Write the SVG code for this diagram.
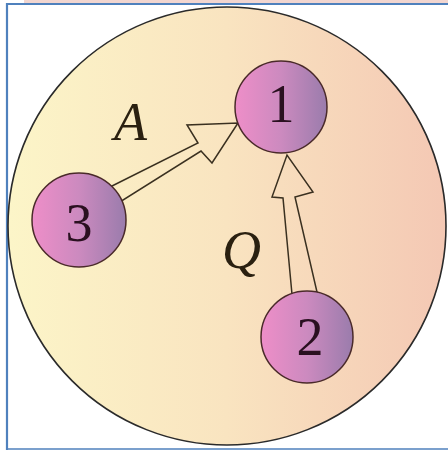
<svg xmlns="http://www.w3.org/2000/svg" width="448" height="450" viewBox="0 0 448 450">
<defs>
<linearGradient id="bg" x1="0" y1="0" x2="1" y2="0">
<stop offset="0" stop-color="#fcf5c8"/>
<stop offset="0.5" stop-color="#f9e4c0"/>
<stop offset="1" stop-color="#f4c8b4"/>
</linearGradient>
<linearGradient id="nd" x1="0" y1="0" x2="1" y2="0">
<stop offset="0" stop-color="#ee8ec8"/>
<stop offset="0.5" stop-color="#cc8abf"/>
<stop offset="1" stop-color="#9a7cac"/>
</linearGradient>
<style>
.node circle{fill:url(#nd);stroke:#4a2a2a;stroke-width:1.5}
.node text{font-family:"Liberation Serif",serif;font-size:54px;fill:#2a1020;text-anchor:middle}
.lbl{font-family:"Liberation Serif",serif;font-style:italic;font-size:54px;fill:#2a2010}
.arrow{fill:none;stroke:#3a3020;stroke-width:1.5;stroke-linejoin:miter}
</style>
</defs>
<rect width="448" height="450" fill="#ffffff"/>
<rect x="24" y="0" width="424" height="3" fill="#f2d6d0"/>
<path d="M7 450 V4 H448" fill="none" stroke="#4f81bd" stroke-width="2.2"/>
<line x1="6" y1="449" x2="448" y2="449" stroke="#4f81bd" stroke-width="1.5"/>
<circle cx="227" cy="226" r="219" fill="url(#bg)" stroke="#2a2a2a" stroke-width="1.6"/>
<g id="connectors">
<polygon class="arrow" points="100,192 198,143 187,125 238,123 212,163 201,151 112,207"/>
<polygon class="arrow" points="293,305 283,198 272,197 287,155 313,192 295,197 320,305"/>
</g>
<text class="lbl" x="114" y="140">A</text>
<text class="lbl" x="222" y="268">Q</text>
<g id="node1" class="node"><circle cx="281" cy="107" r="46"/><text x="281" y="122">1</text></g>
<g id="node3" class="node"><circle cx="79" cy="220" r="47"/><text x="79" y="241">3</text></g>
<g id="node2" class="node"><circle cx="307" cy="337" r="46"/><text x="310" y="355">2</text></g>
</svg>
